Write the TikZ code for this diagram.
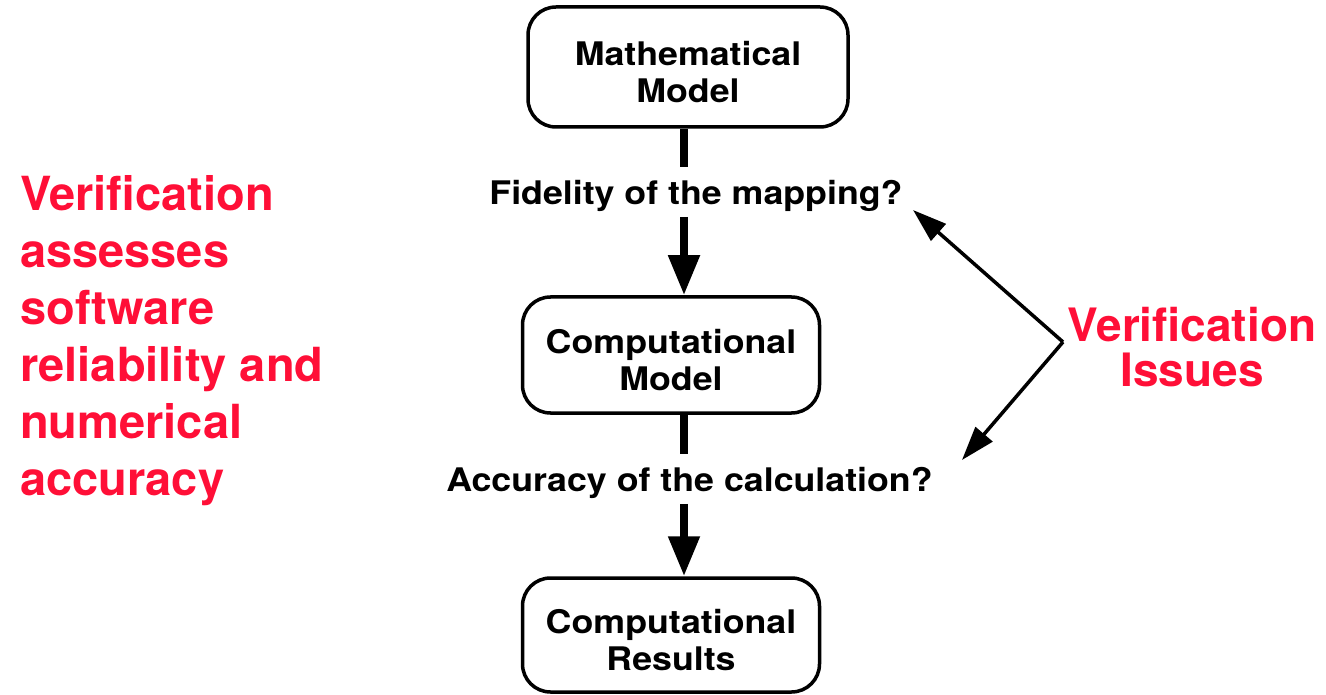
\documentclass[tikz,border=0pt]{standalone}
\usepackage{fontspec}
\setmainfont{TeX Gyre Heros}
\newfontfamily\hvw[FakeStretch=1.1]{TeX Gyre Heros}
\usetikzlibrary{arrows.meta}
\definecolor{vred}{RGB}{255,15,55}
\tikzset{
  modelbox/.style={draw=black, line width=3.5pt, rounded corners=28pt, align=center,
    inner sep=0pt, text height=72pt, font=\hvw\bfseries\fontsize{32.5}{37}\selectfont},
  qlabel/.style={inner sep=0pt, font=\hvw\bfseries\fontsize{32.5}{37}\selectfont},
  flowline/.style={line width=8pt},
  flowarrow/.style={line width=8pt, -{Triangle[width=30pt,length=40pt]}},
  issuearrow/.style={line width=3.5pt, -{Triangle[width=22pt,length=34pt]}},
  redtext/.style={text=vred, inner sep=0pt, font=\bfseries\fontsize{47}{57}\selectfont}
}
\begin{document}
\begin{tikzpicture}[x=1pt,y=-1pt]
\useasboundingbox (0,0) rectangle (1326,695);
% boxes
\node[modelbox, minimum width=320pt, minimum height=120pt] (mm) at (688,67) {Mathematical\\Model};
\node[modelbox, minimum width=297pt, minimum height=116pt] (cm) at (671,355) {Computational\\Model};
\node[modelbox, minimum width=297pt, minimum height=114pt] (cr) at (671,635) {Computational\\Results};
% question labels
\node[qlabel] (fid) at (696,196) {Fidelity of the mapping?};
\node[qlabel] (acc) at (689.5,483) {Accuracy of the calculation?};
\coordinate (ax) at (684,0);
% vertical flow
\draw[flowline, shorten >=13pt] (mm.south -| ax) -- (fid.north -| ax);
\draw[flowarrow, shorten <=5pt] (fid.south -| ax) -- (cm.north -| ax);
\draw[flowline, shorten >=13pt] (cm.south -| ax) -- (acc.north -| ax);
\draw[flowarrow, shorten <=5pt] (acc.south -| ax) -- (cr.north -| ax);
% verification issues
\node[redtext, align=center, font=\bfseries\fontsize{46}{45}\selectfont] (vi) at (1192,347) {Verification\\Issues};
\coordinate (J) at (1063,342);
\coordinate (tipA) at (913,210);
\coordinate (tipB) at (962,460);
\draw[issuearrow] (J) -- (tipA);
\draw[issuearrow] (J) -- (tipB);
% left red text
\node[redtext, align=left, anchor=north west] (vl) at (20,175) {Verification\\assesses\\software\\reliability and\\numerical\\accuracy};
\end{tikzpicture}
\end{document}
